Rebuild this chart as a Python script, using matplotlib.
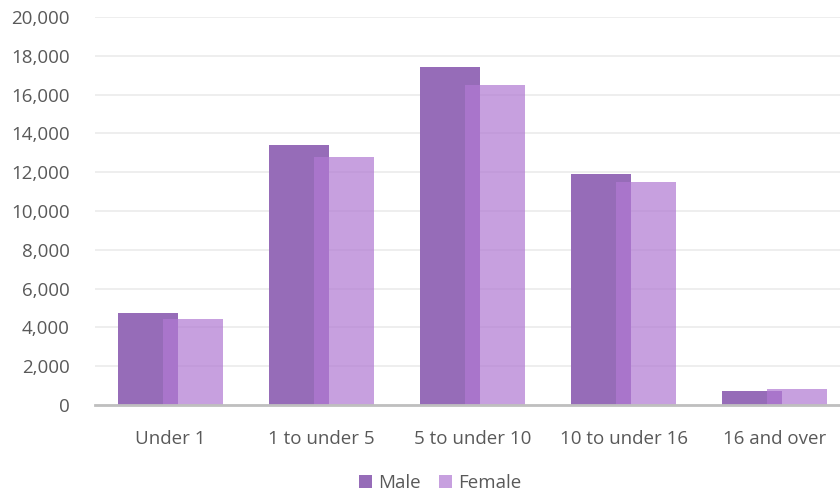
import matplotlib
matplotlib.use("Agg")
import matplotlib.pyplot as plt
import numpy as np
from matplotlib.ticker import FuncFormatter

categories = ["Under 1", "1 to under 5", "5 to under 10", "10 to under 16", "16 and over"]
male = [4740, 13400, 17420, 11900, 730]
female = [4430, 12780, 16490, 11490, 825]

MALE_COL = "#966CB8"
FEMALE_COL = "#B179D3"
TXT = "#595959"

plt.rcParams["font.family"] = ["Open Sans", "DejaVu Sans"]

fig = plt.figure(figsize=(8.4, 4.92), dpi=100)
ax = fig.add_axes([95 / 840, 1 - 405 / 492, 755 / 840, 388 / 492])

x = np.arange(len(categories))
w = 0.397
off = 0.146
ax.bar(x - off, male, width=w, color=MALE_COL, label="Male", zorder=2)
ax.bar(x + off, female, width=w, color=FEMALE_COL, alpha=0.71, label="Female", zorder=3)

ax.set_xlim(-0.5, 4.5)
ax.set_ylim(0, 20000)
ax.set_yticks(np.arange(0, 20001, 2000))
ax.yaxis.set_major_formatter(FuncFormatter(lambda v, p: f"{int(v):,}"))
ax.set_xticks(x)
ax.set_xticklabels(categories)
ax.tick_params(axis="both", length=0, labelsize=13.5, colors=TXT)
ax.tick_params(axis="y", pad=18)
ax.tick_params(axis="x", pad=18)

ax.grid(axis="y", color="#EBEBEB", lw=1.2, zorder=0)
ax.set_axisbelow(True)
for s in ("top", "right", "left"):
    ax.spines[s].set_visible(False)
ax.spines["bottom"].set_color("#BFBFBF")
ax.spines["bottom"].set_linewidth(2)
ax.spines["bottom"].set_zorder(4)

leg = fig.legend(loc="center", bbox_to_anchor=(440 / 840, 1 - 483 / 492), ncol=2,
                 frameon=False, fontsize=13.5, handlelength=0.7, handleheight=0.7,
                 handletextpad=0.3, columnspacing=1.0)
for t in leg.get_texts():
    t.set_color(TXT)

fig.savefig("out.png", dpi=100)
